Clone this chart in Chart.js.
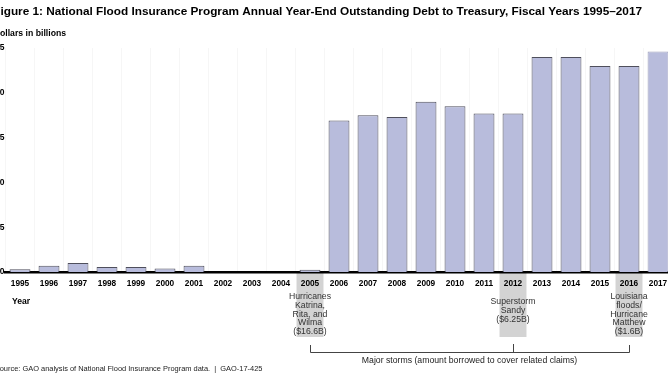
<!DOCTYPE html>
<html>
<head>
<meta charset="utf-8">
<script src="https://cdn.jsdelivr.net/npm/chart.js@4/dist/chart.umd.min.js"></script>
<style>
html,body{margin:0;padding:0;background:#fff;overflow:hidden;width:668px;height:376px;}
#wrap{position:absolute;left:-12px;top:0;width:700px;height:376px;}
</style>
</head>
<body>
<div id="wrap"><canvas id="c" width="700" height="376"></canvas></div>
<script>
const years = ['1995','1996','1997','1998','1999','2000','2001','2002','2003','2004','2005','2006','2007','2008','2009','2010','2011','2012','2013','2014','2015','2016','2017'];
const debtBillions = [0.3,0.7,1.0,0.55,0.55,0.4,0.7,0,0,0,0.25,16.9,17.5,17.3,19.0,18.5,17.7,17.7,24.0,24.0,23.0,23.0,24.6];
const yTicks = [0,5,10,15,20,25];
const stormYears = ['2005','2012','2016'];
const stormNotes = [
  ['Hurricanes','Katrina,','Rita, and','Wilma','($16.6B)'],
  ['Superstorm','Sandy','($6.25B)'],
  ['Louisiana','floods/','Hurricane','Matthew','($1.6B)']
];
const titleText = 'Figure 1: National Flood Insurance Program Annual Year-End Outstanding Debt to Treasury, Fiscal Years 1995\u20132017';
const unitText = 'Dollars in billions';
const axisTitle = 'Year';
const bracketText = 'Major storms (amount borrowed to cover related claims)';
const sourceText = 'Source: GAO analysis of National Flood Insurance Program data.  |  GAO-17-425';

const FONT = "'Liberation Sans', Arial, sans-serif";
const LEFT = 5.7;

const annot = {
  id: 'annot',
  beforeDraw(chart) {
    const ctx = chart.ctx, x = chart.scales.x, area = chart.chartArea;
    ctx.save();
    ctx.fillStyle = '#d3d3d3';
    const w = x.width / years.length * 0.93;
    stormYears.forEach(y => {
      const cx = x.getPixelForValue(years.indexOf(y));
      ctx.fillRect(cx - w/2, area.bottom, w, 337 - area.bottom);
    });
    ctx.restore();
  },
  afterDraw(chart) {
    const ctx = chart.ctx, x = chart.scales.x;
    ctx.save();
    ctx.fillStyle = '#000';
    ctx.textAlign = 'left';
    ctx.textBaseline = 'alphabetic';
    ctx.font = 'bold 11.8px ' + FONT;
    ctx.fillText(titleText, LEFT - 0.5, 14.5);
    ctx.font = 'bold 8.7px ' + FONT;
    ctx.fillText(unitText, LEFT, 36);
    ctx.font = 'bold 8.6px ' + FONT;
    ctx.fillText(axisTitle, 24, 303.5);
    // storm notes
    ctx.fillStyle = '#333';
    ctx.textAlign = 'center';
    ctx.textBaseline = 'middle';
    ctx.font = '8.7px ' + FONT;
    const centers = [];
    stormYears.forEach((y, i) => {
      const cx = x.getPixelForValue(years.indexOf(y));
      centers.push(cx);
      const start = stormNotes[i].length === 3 ? 302 : 297;
      stormNotes[i].forEach((line, j) => ctx.fillText(line, cx, start + j * 8.6));
    });
    // bracket
    ctx.strokeStyle = '#444';
    ctx.lineWidth = 1;
    ctx.beginPath();
    const by = 352.5;
    ctx.moveTo(Math.round(centers[0]) + 0.5, 345);
    ctx.lineTo(Math.round(centers[0]) + 0.5, by);
    ctx.lineTo(Math.round(centers[2]) + 0.5, by);
    ctx.lineTo(Math.round(centers[2]) + 0.5, 345);
    ctx.moveTo(Math.round(centers[1]) + 0.5, by);
    ctx.lineTo(Math.round(centers[1]) + 0.5, 344);
    ctx.stroke();
    ctx.fillStyle = '#222';
    ctx.font = '8.7px ' + FONT;
    ctx.fillText(bracketText, (centers[0] + centers[2]) / 2, 361);
    ctx.textAlign = 'left';
    ctx.textBaseline = 'alphabetic';
    ctx.font = '7.45px ' + FONT;
    ctx.fillText(sourceText, LEFT + 1, 371);
    ctx.restore();
  }
};

new Chart(document.getElementById('c'), {
  type: 'bar',
  data: {
    labels: years,
    datasets: [{
      data: debtBillions,
      backgroundColor: '#b8bcdc',
      borderColor: years.map(y => y === '2017' ? '#9ea1bd' : '#4f4f5c'),
      borderWidth: 1,
      borderSkipped: 'start',
      barPercentage: 0.72,
      categoryPercentage: 1.0
    }]
  },
  options: {
    responsive: false,
    animation: false,
    devicePixelRatio: 1,
    layout: { padding: { top: 48, right: 15.5, left: 0, bottom: 0 } },
    plugins: { legend: { display: false }, tooltip: { enabled: false }, title: { display: false } },
    scales: {
      x: {
        grid: { display: true, offset: true, color: 'rgba(0,0,0,0.035)', drawTicks: false },
        border: { display: true, color: '#000', width: 2.5 },
        ticks: { color: '#000', font: { family: FONT, size: 8.3, weight: 'bold' }, padding: 6.5, maxRotation: 0, autoSkip: false },
        afterFit(s) { s.height = 376 - 272; }
      },
      y: {
        min: 0, max: 25,
        afterBuildTicks(s) { s.ticks = yTicks.map(v => ({ value: v })); },
        grid: { display: false, drawTicks: false },
        border: { display: false },
        ticks: { color: '#000', font: { family: FONT, size: 8.5, weight: 'bold' }, padding: 1 },
        afterFit(s) { s.width = 17.5; }
      }
    }
  },
  plugins: [annot]
});
</script>
</body>
</html>
